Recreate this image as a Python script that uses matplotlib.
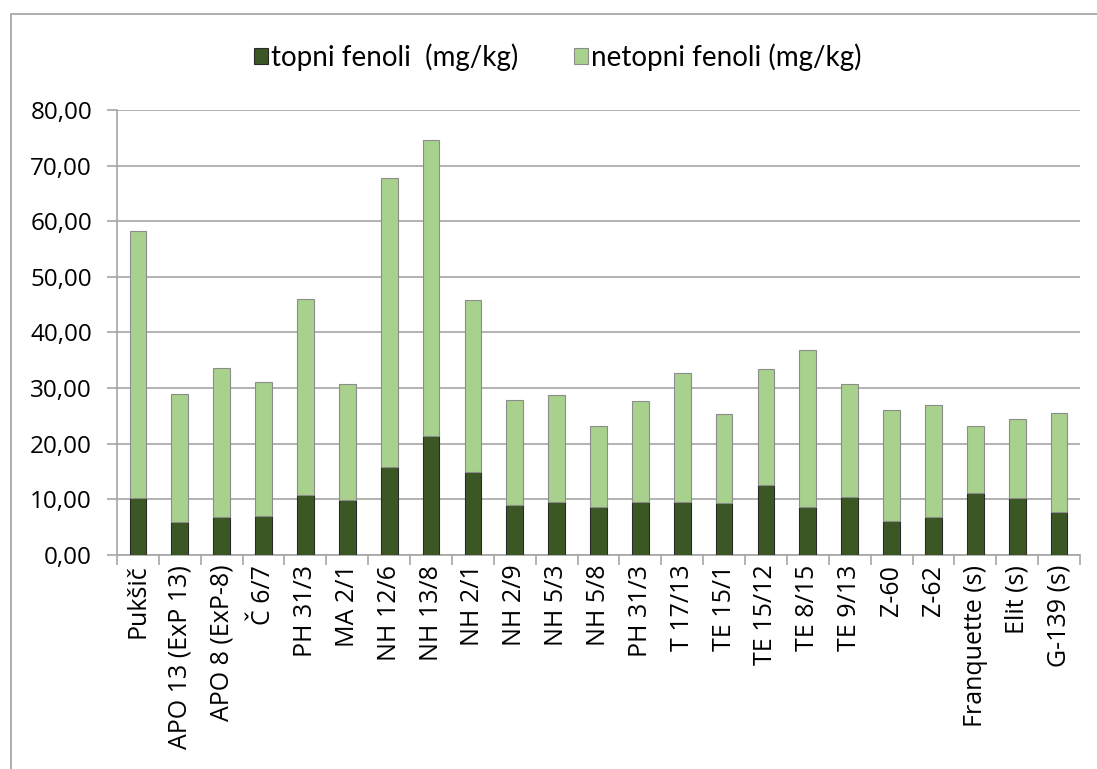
import numpy as np
import matplotlib
matplotlib.use("Agg")
import matplotlib.pyplot as plt
from matplotlib.patches import Rectangle
from matplotlib.ticker import FixedLocator, FuncFormatter

labels = ["Pukšič", "APO 13 (ExP 13)", "APO 8 (ExP-8)", "Č 6/7", "PH 31/3", "MA 2/1",
          "NH 12/6", "NH 13/8", "NH 2/1", "NH 2/9", "NH 5/3", "NH 5/8", "PH 31/3",
          "T 17/13", "TE 15/1", "TE 15/12", "TE 8/15", "TE 9/13", "Z-60", "Z-62",
          "Franquette (s)", "Elit (s)", "G-139 (s)"]
totals = [58.3, 29.0, 33.7, 31.1, 46.1, 30.8, 67.8, 74.6, 45.9, 27.8, 28.8, 23.2, 27.7,
          32.7, 25.3, 33.4, 36.9, 30.8, 26.0, 26.9, 23.2, 24.4, 25.6]
topni = [10.3, 5.9, 6.8, 7.0, 10.7, 9.8, 15.8, 21.4, 14.9, 8.9, 9.5, 8.6, 9.5,
         9.5, 9.3, 12.5, 8.6, 10.4, 6.1, 6.8, 11.2, 10.3, 7.7]
netopni = [t - s for t, s in zip(totals, topni)]

dark = "#3b5724"
light = "#a9d18e"
grid_c = "#a6a6a6"

fig = plt.figure(figsize=(10.97, 7.69), dpi=100)
fig.patches.append(Rectangle((11 / 1097, -0.1), 1.2, 1 - 14 / 769 + 0.1,
                             transform=fig.transFigure, fill=False,
                             edgecolor="#a0a0a0", lw=1.2))
ax = fig.add_axes([117 / 1097, 1 - 555 / 769, (1080 - 117) / 1097, (555 - 110) / 769])

x = np.arange(len(labels))
ax.bar(x, topni, width=0.4, color=dark, edgecolor="#2a2a2a", lw=0.8,
       label="topni fenoli  (mg/kg)", zorder=3)
ax.bar(x, netopni, width=0.4, bottom=topni, color=light, edgecolor="#8c8c8c", lw=0.8,
       label="netopni fenoli (mg/kg)", zorder=3)

ax.set_xlim(-0.5, len(labels) - 0.5)
ax.set_ylim(0, 80)
ax.set_yticks(np.arange(0, 81, 10))
ax.yaxis.set_major_formatter(FuncFormatter(lambda v, p: f"{v:.2f}".replace(".", ",")))
ax.grid(axis="y", color=grid_c, lw=1.2, zorder=0)

ax.set_xticks(x)
ax.set_xticklabels(labels, rotation=90, fontfamily="Open Sans", fontsize=18)
ax.xaxis.set_minor_locator(FixedLocator(np.arange(-0.5, len(labels), 1)))
ax.tick_params(axis="x", which="major", length=0, pad=7)
ax.tick_params(axis="x", which="minor", length=7, color=grid_c, width=1.2)
ax.tick_params(axis="y", length=7, color=grid_c, width=1.2, pad=11)
for t in ax.get_yticklabels():
    t.set_fontfamily("Open Sans")
    t.set_fontsize(17.5)

for s in ["top", "right"]:
    ax.spines[s].set_visible(False)
for s in ["left", "bottom"]:
    ax.spines[s].set_color(grid_c)
    ax.spines[s].set_linewidth(1.2)

ax.legend(loc="center", bbox_to_anchor=(558 / 1097, 1 - 57 / 769), bbox_transform=fig.transFigure,
          ncol=2, frameon=False, prop={"family": "Lato", "size": 20},
          handlelength=0.5, handleheight=0.5, handletextpad=0.12, columnspacing=2.0)

fig.savefig("out.png", dpi=100)
